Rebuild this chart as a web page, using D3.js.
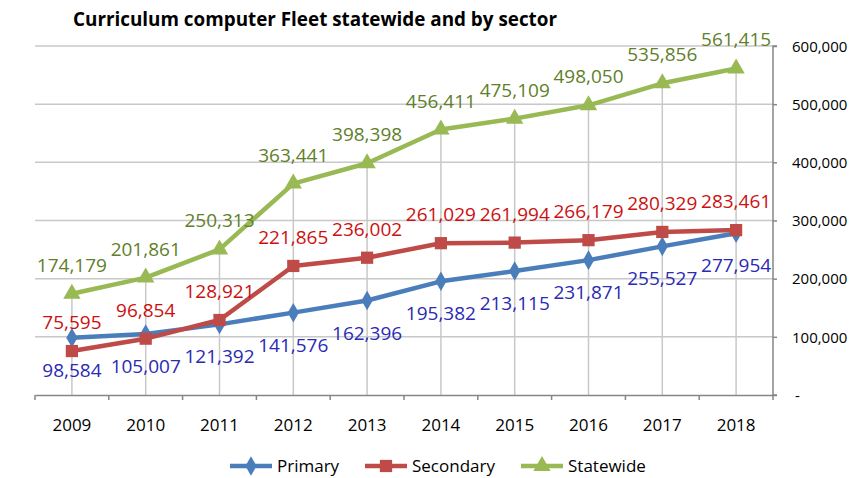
<!DOCTYPE html>
<html><head><meta charset="utf-8">
<script src="https://cdn.jsdelivr.net/npm/d3@7"></script>
<style>
html,body{margin:0;padding:0;background:#fff;}
svg{display:block;font-family:"Open Sans",sans-serif;}
</style></head>
<body><svg id="c" width="868" height="478"></svg>
<script>
const years = ["2009","2010","2011","2012","2013","2014","2015","2016","2017","2018"];
const primary = [98584,105007,121392,141576,162396,195382,213115,231871,255527,277954];
const secondary = [75595,96854,128921,221865,236002,261029,261994,266179,280329,283461];
const statewide = [174179,201861,250313,363441,398398,456411,475109,498050,535856,561415];
const yTicks = [0,100000,200000,300000,400000,500000,600000];
const seriesNames = ["Primary","Secondary","Statewide"];
const lineColors = ["#4a7ebb","#be4b48","#98b954"];
const labelColors = ["#2a2ab4","#cc1010","#5f7f2a"];
const title = "Curriculum computer Fleet statewide and by sector";

const svg = d3.select("#c");
const L = 35, R = 773, T = 46, B = 395;
const x = d3.scaleBand().domain(years).range([L,R]);
const y = d3.scaleLinear().domain([0,600000]).range([B,T]);
const fmt = d3.format(",");

// gridlines
svg.append("g").selectAll("line").data(yTicks.filter(d=>d>0)).join("line")
  .attr("x1",L).attr("x2",R).attr("y1",d=>y(d)).attr("y2",d=>y(d))
  .attr("stroke","#c8c8c8").attr("stroke-width",1.5);

// drop lines
const maxVals = years.map((yr,i)=>Math.max(primary[i],secondary[i],statewide[i]));
svg.append("g").selectAll("line").data(years).join("line")
  .attr("x1",d=>x(d)+x.bandwidth()/2).attr("x2",d=>x(d)+x.bandwidth()/2)
  .attr("y1",(d,i)=>y(maxVals[i])).attr("y2",B)
  .attr("stroke","#c8c8c8").attr("stroke-width",1.5);

// right axis
const yAxis = d3.axisRight(y).tickValues(yTicks).tickSize(4)
  .tickFormat(d=>d===0?"-":fmt(d));
const ya = svg.append("g").attr("transform",`translate(${R},0)`).call(yAxis);
ya.select(".domain").attr("stroke","#868686").attr("stroke-width",1.5).attr("d",`M4,${T}H0V${B}H4`);
ya.selectAll(".tick line").attr("stroke","#868686").attr("stroke-width",1.5);
ya.selectAll(".tick text").attr("x",19).attr("font-size",15).attr("fill","#000")
  .attr("font-family","Open Sans, sans-serif").attr("dy","0.35em");
ya.selectAll(".tick").filter(d=>d===0).select("text").attr("x",22);

// bottom axis
const xa = svg.append("g").attr("transform",`translate(0,${B})`)
  .call(d3.axisBottom(x).tickSize(0).tickSizeOuter(0));
xa.select(".domain").attr("stroke","#868686").attr("stroke-width",1.5);
xa.selectAll(".tick text").attr("font-size",17).attr("fill","#000")
  .attr("font-family","Open Sans, sans-serif").attr("y",24).attr("dy","0.71em");
// category boundary ticks
xa.append("g").selectAll("line").data(years.concat(["end"])).join("line")
  .attr("x1",(d,i)=>i<years.length?x(d):R).attr("x2",(d,i)=>i<years.length?x(d):R)
  .attr("y1",0).attr("y2",5).attr("stroke","#868686").attr("stroke-width",1.5);

// title
svg.append("text").attr("x",315).attr("y",26).attr("text-anchor","middle")
  .attr("font-weight","bold").attr("font-size",20).attr("textLength",484)
  .attr("lengthAdjust","spacingAndGlyphs").text(title);

const line = d3.line().x((d,i)=>x(years[i])+x.bandwidth()/2).y(d=>y(d));
const allSeries = [primary,secondary,statewide];
const symbols = [d3.symbolDiamond,d3.symbolSquare,d3.symbolTriangle];
const symSizes = [110,150,130];

allSeries.forEach((s,k)=>{
  const g = svg.append("g");
  g.append("path").datum(s).attr("d",line).attr("fill","none")
    .attr("stroke",lineColors[k]).attr("stroke-width",4.5).attr("stroke-linejoin","round");
  g.selectAll("path.m").data(s).join("path").attr("class","m")
    .attr("transform",(d,i)=>`translate(${x(years[i])+x.bandwidth()/2},${y(d)})`)
    .attr("d",d3.symbol().type(symbols[k]).size(symSizes[k]))
    .attr("fill",lineColors[k]);
});

// labels
allSeries.forEach((s,k)=>{
  svg.append("g").selectAll("text").data(s).join("text")
    .attr("x",(d,i)=>x(years[i])+x.bandwidth()/2)
    .attr("y",d=>k===0? y(d)+39 : y(d)-22)
    .attr("text-anchor","middle").attr("font-size",19)
    .attr("fill",labelColors[k]).text(d=>fmt(d));
});

// legend
const legX = [230,365,521];
const lg = svg.append("g");
seriesNames.forEach((n,k)=>{
  const g = lg.append("g").attr("transform",`translate(${legX[k]},466)`);
  g.append("line").attr("x1",0).attr("x2",42).attr("stroke",lineColors[k]).attr("stroke-width",4.5);
  g.append("path").attr("transform","translate(21,0)")
    .attr("d",d3.symbol().type(symbols[k]).size(symSizes[k])).attr("fill",lineColors[k]);
  g.append("text").attr("x",47).attr("y",6).attr("font-size",17).attr("fill","#000").text(n);
});
</script></body></html>
